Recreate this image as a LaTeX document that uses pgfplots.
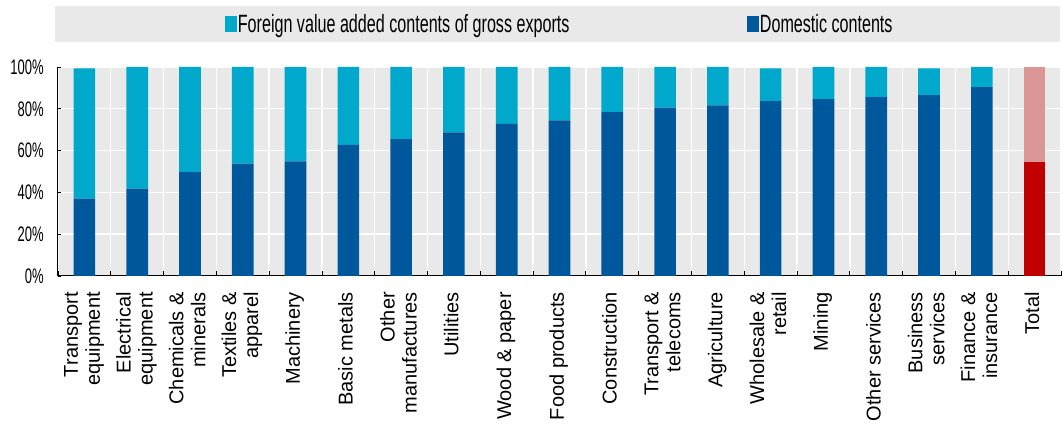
\documentclass[border=0pt]{standalone}
\usepackage{pgfplots}
\pgfplotsset{compat=1.18}
\usepackage{fontspec}
\setmainfont{Liberation Sans}
\newfontfamily\legfont[FakeStretch=0.645]{Liberation Sans}
\newfontfamily\tickfont[FakeStretch=0.62]{Liberation Sans}
\definecolor{dom}{RGB}{0,88,156}
\definecolor{forn}{RGB}{0,168,204}
\definecolor{totd}{RGB}{192,0,0}
\definecolor{totf}{RGB}{218,150,148}
\definecolor{bg}{RGB}{233,233,233}
\newcommand{\tl}[1]{\begin{tabular}{@{}r@{}}#1\end{tabular}}
\begin{document}
\begin{tikzpicture}
\fill[bg] (-3pt,234pt) rectangle (1002pt,270pt);
\begin{axis}[
  at={(0pt,0pt)}, anchor=south west,
  scale only axis, width=1003pt, height=209pt,
  xmin=-0.5, xmax=18.5, ymin=0, ymax=100,
  ybar stacked, bar width=0.41,
  axis background/.style={fill=bg},
  axis x line*=bottom, axis y line*=left,
  axis line style={black, line width=1pt},
  xtick={0,...,18},
  minor xtick={-0.5,0.5,...,18.5},
  major x tick style={draw=none},
  minor x tick style={black, line width=0.9pt},
  minor tick length=5pt,
  xminorgrids=true, ymajorgrids=true,
  minor grid style={white, line width=1.4pt},
  major grid style={white, line width=1.4pt},
  ytick={0,20,40,60,80,100},
  yticklabels={0\%,20\%,40\%,60\%,80\%,100\%},
  major y tick style={black, line width=0.9pt},
  major tick length=3pt,
  tick align=inside,
  yticklabel style={font=\tickfont\fontsize{21}{23}\selectfont, inner xsep=0pt, xshift=-14pt},
  xticklabels={{\tl{Transport\\equipment}},{\tl{Electrical\\equipment}},{\tl{Chemicals \&\\minerals}},{\tl{Textiles \&\\apparel}},{\tl{Machinery}},{\tl{Basic metals}},{\tl{Other\\manufactures}},{\tl{Utilities}},{\tl{Wood \& paper}},{\tl{Food products}},{\tl{Construction}},{\tl{Transport \&\\telecoms}},{\tl{Agriculture}},{\tl{Wholesale \&\\retail}},{\tl{Mining}},{\tl{Other services}},{\tl{Business\\services}},{\tl{Finance \&\\insurance}},{\tl{Total}}},
  xticklabel style={font=\fontsize{20}{22}\selectfont, yshift=-16pt, rotate=90, anchor=east, inner sep=0pt},
  legend style={at={(0.5,1.206)}, anchor=center, draw=none, fill=none,
    legend columns=2, font=\legfont\fontsize{25}{28}\selectfont,
    nodes={inner sep=1.5pt},
    /tikz/every even column/.append style={column sep=176pt}},
  legend cell align=left,
]
\addplot+[forget plot, draw=none, fill=dom] coordinates {
(0,37) (1,41.8) (2,49.7) (3,53.8) (4,54.8) (5,62.7) (6,65.5) (7,68.7) (8,72.8) (9,74.5)
(10,78.4) (11,80.6) (12,81.6) (13,83.7) (14,84.6) (15,85.6) (16,86.5) (17,90.4) (18,0)};
\addplot+[forget plot, draw=none, fill=forn] coordinates {
(0,62.4) (1,58.2) (2,50.3) (3,46.2) (4,45.2) (5,37.3) (6,34.5) (7,31.3) (8,27.2) (9,25.5)
(10,21.6) (11,19.4) (12,18.4) (13,15.7) (14,15.4) (15,14.4) (16,12.9) (17,9.6) (18,0)};
\addplot+[forget plot, draw=none, fill=totd] coordinates {
(0,0) (1,0) (2,0) (3,0) (4,0) (5,0) (6,0) (7,0) (8,0) (9,0)
(10,0) (11,0) (12,0) (13,0) (14,0) (15,0) (16,0) (17,0) (18,54.6)};
\addplot+[forget plot, draw=none, fill=totf] coordinates {
(0,0) (1,0) (2,0) (3,0) (4,0) (5,0) (6,0) (7,0) (8,0) (9,0)
(10,0) (11,0) (12,0) (13,0) (14,0) (15,0) (16,0) (17,0) (18,45.4)};
\addlegendimage{legend image code/.code={\fill[forn] (0pt,-7.5pt) rectangle (11pt,7.5pt);}}
\addlegendentry{Foreign value added contents of gross exports}
\addlegendimage{legend image code/.code={\fill[dom] (0pt,-7.5pt) rectangle (11pt,7.5pt);}}
\addlegendentry{Domestic contents}
\end{axis}
\pgfresetboundingbox
\path (-58pt,-149pt) rectangle (1004pt,276pt);
\end{tikzpicture}
\end{document}
